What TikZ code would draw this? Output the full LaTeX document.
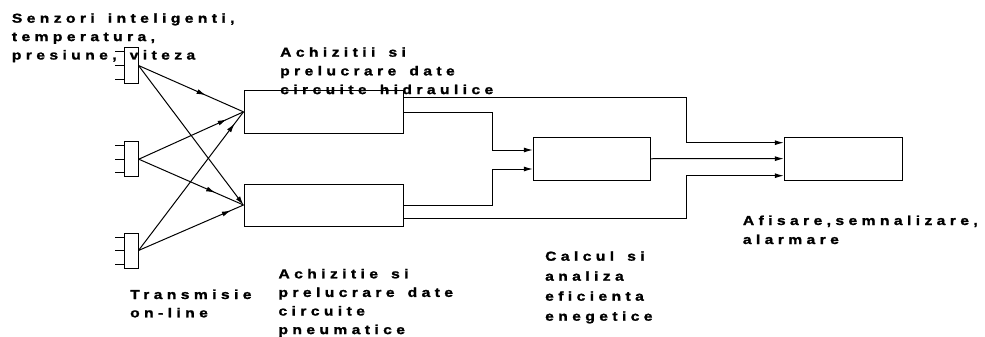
\documentclass[tikz,border=0pt]{standalone}
\usepackage{fontspec}
\newfontfamily\lblfont[LetterSpace=34,WordSpace=1.5,FakeBold=1.5,FakeStretch=1.2]{Liberation Sans Bold}
\usetikzlibrary{arrows.meta,decorations.markings}
\tikzset{
  lbl/.style={anchor=base west, inner sep=0pt, font=\lblfont\fontsize{13}{18.6}\selectfont},
  sensor/.style={draw, line width=1pt, minimum width=14pt, minimum height=35pt, inner sep=0pt},
  blk/.style={draw, line width=1pt, inner sep=0pt},
  wire/.style={line width=1pt},
  tip/.style={-{Latex[length=9pt,width=5pt]}},
  marr/.style={postaction={decorate,decoration={markings,mark=at position #1 with {\arrow{Latex[length=9pt,width=5pt]}}}}}
}
\begin{document}
\begin{tikzpicture}[x=1pt,y=-1pt]
\useasboundingbox (0,0) rectangle (985,337);
% labels
\node[lbl] (tsen) at (11.7,22.7) {\vtop{\baselineskip=18.4pt \hbox{Senzori inteligenti,}\hbox{temperatura,}\hbox{presiune, viteza}}};
\node[lbl] (thid) at (280,56.7) {\vtop{\baselineskip=18.7pt \hbox{Achizitii si}\hbox{prelucrare date}\hbox{circuite hidraulice}}};
\node[lbl] (ttr) at (130,299) {\vtop{\baselineskip=18.3pt \hbox{Transmisie}\hbox{on-line}}};
\node[lbl] (tpn) at (278.3,278.3) {\vtop{\baselineskip=18.6pt \hbox{Achizitie si}\hbox{prelucrare date}\hbox{circuite}\hbox{pneumatice}}};
\node[lbl] (tcal) at (545,260.7) {\vtop{\baselineskip=20pt \hbox{Calcul si}\hbox{analiza}\hbox{eficienta}\hbox{enegetice}}};
\node[lbl] (taf) at (742.7,225) {\vtop{\baselineskip=19pt \hbox{Afisare,semnalizare,}\hbox{alarmare}}};
% sensors
\node[sensor] (s1) at (131,65.5) {};
\node[sensor] (s2) at (131.3,159.2) {};
\node[sensor] (s3) at (131,250.5) {};
\foreach \s in {s1,s2,s3}{
  \draw[wire] ([yshift=13.5pt]\s.west) -- ++(-9,0);
  \draw[wire] (\s.west) -- ++(-9,0);
  \draw[wire] ([yshift=-13.5pt]\s.west) -- ++(-9,0);
}
% blocks
\node[blk, minimum width=159pt, minimum height=42.3pt] (A) at (323.5,111.85) {};
\node[blk, minimum width=159pt, minimum height=42pt] (B) at (323.5,205) {};
\node[blk, minimum width=117.4pt, minimum height=42.5pt] (C) at (592,158.75) {};
\node[blk, minimum width=118pt, minimum height=42.7pt] (D) at (843.3,158.65) {};
% sensor connections
\draw[wire, marr=0.64] (s1.east) -- (A.west);
\draw[wire, tip] (s1.east) -- (B.west);
\draw[wire, marr=0.84] (s2.east) -- (A.west);
\draw[wire, marr=0.73] (s2.east) -- (B.west);
\draw[wire, marr=0.915] (s3.east) -- (A.west);
\draw[wire, marr=0.88] (s3.east) -- (B.west);
% right side connections
\draw[wire, tip] (A.east |- 0,97.5) -| (686.3,142.7) -- (D.west |- 0,142.7);
\draw[wire, tip] (A.east |- 0,112.3) -| (492.7,150) -- (C.west |- 0,150);
\draw[wire, tip] (B.east |- 0,205) -| (492.7,169) -- (C.west |- 0,169);
\draw[wire, tip] (C.east) -- (D.west);
\draw[wire, tip] (B.east |- 0,218.7) -| (686.3,175.7) -- (D.west |- 0,175.7);
\end{tikzpicture}
\end{document}
